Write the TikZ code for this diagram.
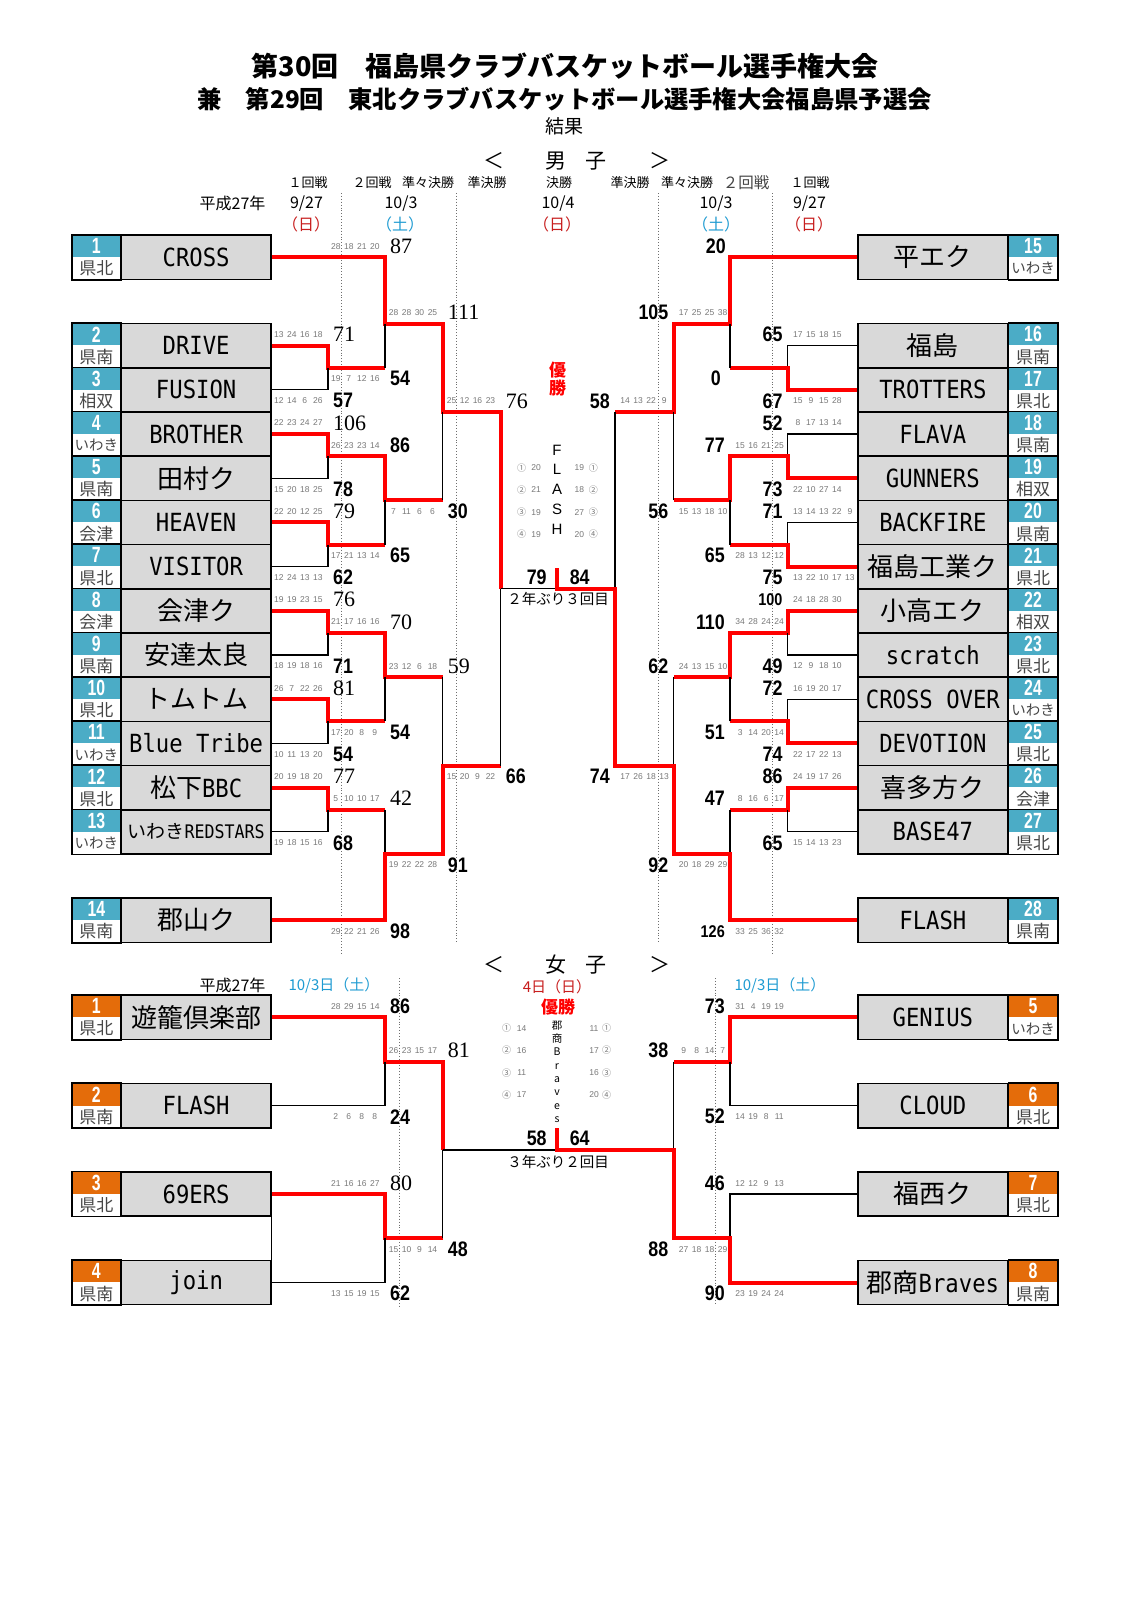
\documentclass[tikz,border=0pt]{standalone}
\usepackage{fontspec}
\setmainfont{Liberation Sans}
\newfontfamily\jp{Noto Sans CJK JP}
\newfontfamily\tm[FakeStretch=0.89]{DejaVu Sans Mono}
\newfontfamily\nf[FakeStretch=0.85]{Liberation Sans}
\newfontfamily\cf[FakeStretch=0.72]{Liberation Sans}
\newfontfamily\serfont{Liberation Serif}
\definecolor{teamBlue}{RGB}{75,172,198}
\definecolor{teamOrange}{RGB}{228,108,10}
\definecolor{nameGray}{RGB}{217,217,217}
\definecolor{winRed}{RGB}{255,0,0}
\definecolor{dayRed}{RGB}{200,30,30}
\definecolor{dayBlue}{RGB}{30,155,210}
\definecolor{qGray}{RGB}{120,120,120}
\definecolor{regGray}{RGB}{70,70,70}
\definecolor{guideGray}{RGB}{110,110,110}
% slot rows of the bracket
\pgfmathdeclarefunction{sy}{1}{\pgfmathparse{257.2+44.2*#1}}
\pgfmathdeclarefunction{wy}{1}{\pgfmathparse{1017.3+44.2*#1}}
\newcommand{\J}[1]{{\jp\fontsize{26}{26}\selectfont #1}}
\newcommand{\Iw}{{\fontsize{14.5}{14.5}\selectfont いわき}}
\newcommand{\Qs}[1]{\foreach \q in {#1}{\makebox[13pt][c]{\q}}}
% team box: name, y, number, region, team, colour
\newcommand{\TeamL}[6]{%
  \node[namebox,anchor=west] (#1) at (120.7,{#2}) {#5};
  \node[numtop,fill=#6,anchor=south west] (#1n) at (71.7,{#2}) {#3};
  \node[numbot,anchor=north west] (#1r) at (71.7,{#2}) {#4};
  \draw[boxline] (#1n.north west) rectangle (#1r.south east);}
\newcommand{\TeamR}[6]{%
  \node[namebox,anchor=east] (#1) at (1008.3,{#2}) {#5};
  \node[numtop,fill=#6,anchor=south west] (#1n) at (1008.3,{#2}) {#3};
  \node[numbot,anchor=north west] (#1r) at (1008.3,{#2}) {#4};
  \draw[boxline] (#1n.north west) rectangle (#1r.south east);}
% scores: [style] name, junction x, y, quarters, total
\newcommand{\SL}[6][tot]{%
  \node[qs,anchor=east] (#2q) at ({#3-3.5},{#4}) {\Qs{#5}};
  \node[#1,anchor=west] (#2) at ({#3+5},{#4}) {#6};}
\newcommand{\SR}[6][tot]{%
  \node[#1,anchor=east] (#2) at ({#3-5},{#4}) {#6};
  \node[qs,anchor=west] (#2q) at ({#3+3.5},{#4}) {\Qs{#5}};}

\begin{document}
\begin{tikzpicture}[x=1pt,y=-1pt,
  namebox/.style={draw=black,line width=1.6pt,fill=nameGray,minimum width=149.3pt,minimum height=44.2pt,inner sep=0pt,font=\tm\fontsize{25}{25}\selectfont},
  numtop/.style={minimum width=49pt,minimum height=22.1pt,inner sep=0pt,text=white,font=\cf\bfseries\fontsize{22}{22}\selectfont},
  numbot/.style={fill=white,minimum width=49pt,minimum height=22.1pt,inner sep=0pt,text=regGray,font=\jp\fontsize{17}{17}\selectfont},
  boxline/.style={draw=black,line width=1.6pt},
  win/.style={draw=winRed,line width=4pt},
  lose/.style={draw=black,line width=1.3pt},
  guide/.style={draw=guideGray,line width=0.9pt,dotted},
  qs/.style={inner sep=0pt,text=qGray,font=\fontsize{8.5}{8.5}\selectfont},
  tot/.style={inner sep=0pt,font=\nf\bfseries\fontsize{21}{21}\selectfont},
  tots/.style={inner sep=0pt,font=\nf\bfseries\fontsize{17}{17}\selectfont},
  sr/.style={inner sep=0pt,font=\serfont\fontsize{22}{22}\selectfont},
  hdr/.style={font=\jp\fontsize{13}{13}\selectfont},
  dt/.style={font=\jp\fontsize{16}{16}\selectfont},
  cq/.style={inner sep=0pt,text=qGray,font=\jp\fontsize{9}{9}\selectfont}]
\fill[white] (0,0) rectangle (1131,1600);
\useasboundingbox (0,0) rectangle (1131,1600);

% titles
\node[font=\jp\bfseries\fontsize{27}{27}\selectfont] (t1) at (565,66) {第30回　福島県クラブバスケットボール選手権大会};
\node[font=\jp\bfseries\fontsize{24.3}{24.3}\selectfont] (t2) at (564.5,99) {兼　第29回　東北クラブバスケットボール選手権大会福島県予選会};
\node[font=\jp\fontsize{19}{19}\selectfont] (t3) at (564.5,126.6) {結果};

% men header
\node[font=\jp\fontsize{21}{21}\selectfont] (mh1) at (493.5,161) {＜};
\node[font=\jp\fontsize{21}{21}\selectfont] (mh2) at (555.5,161) {男};
\node[font=\jp\fontsize{21}{21}\selectfont] (mh3) at (596,161) {子};
\node[font=\jp\fontsize{21}{21}\selectfont] (mh4) at (659.5,161) {＞};
\node[hdr] (rn1) at (308,182.7) {１回戦};
\node[hdr] (rn2) at (372,182.7) {２回戦};
\node[hdr] (rn3) at (428,182.7) {準々決勝};
\node[hdr] (rn4) at (487,182.7) {準決勝};
\node[hdr] (rn5) at (559,182.7) {決勝};
\node[hdr] (rn6) at (630,182.7) {準決勝};
\node[hdr] (rn7) at (687,182.7) {準々決勝};
\node[hdr,font=\jp\fontsize{15.5}{15.5}\selectfont,text=regGray] (rn8) at (746,182.7) {２回戦};
\node[hdr] (rn9) at (810,182.7) {１回戦};
\node[dt] (md0) at (232.5,203.3) {平成27年};
\node[dt] (md1) at (306.5,203.3) {9/27};
\node[dt] (md2) at (401,203.3) {10/3};
\node[dt] (md3) at (558,203.3) {10/4};
\node[dt] (md4) at (716,203.3) {10/3};
\node[dt] (md5) at (809.5,203.3) {9/27};
\node[dt,text=dayRed] (mw1) at (306,224) {（日）};
\node[dt,text=dayBlue] (mw2) at (400,224) {（土）};
\node[dt,text=dayRed] (mw3) at (557,224) {（日）};
\node[dt,text=dayBlue] (mw4) at (716,224) {（土）};
\node[dt,text=dayRed] (mw5) at (809,224) {（日）};

% round guides
\draw[guide] (341.7,193) -- (341.7,953);
\draw[guide] (456.7,193) -- (456.7,943);
\draw[guide] (658,193) -- (658,943);
\draw[guide] (772.7,193) -- (772.7,953);
\draw[guide] (399.3,978) -- (399.3,1306);
\draw[guide] (715,978) -- (715,1304);

% men teams
\foreach \s/\n/\rg/\nm in {0/1/県北/CROSS,2/2/県南/DRIVE,3/3/相双/FUSION,4/4/\Iw/BROTHER,
    5/5/県南/{\J{田村ク}},6/6/会津/HEAVEN,7/7/県北/VISITOR,8/8/会津/{\J{会津ク}},
    9/9/県南/{\J{安達太良}},10/10/県北/{\J{トムトム}},11/11/\Iw/Blue Tribe,12/12/県北/{\J{松下}BBC},
    13/13/\Iw/{{\jp\fontsize{19}{19}\selectfont いわき}{\fontsize{18.7}{19}\selectfont REDSTARS}},15/14/県南/{\J{郡山ク}}}
  {\TeamL{L\n}{sy(\s)}{\n}{\rg}{\nm}{teamBlue}}
\foreach \s/\n/\rg/\nm in {0/15/\Iw/{\J{平エク}},2/16/県南/{\J{福島}},3/17/県北/TROTTERS,4/18/県南/FLAVA,
    5/19/相双/GUNNERS,6/20/県南/BACKFIRE,7/21/県北/{\J{福島工業ク}},8/22/相双/{\J{小高エク}},
    9/23/県北/scratch,10/24/\Iw/CROSS OVER,11/25/県北/DEVOTION,12/26/会津/{\J{喜多方ク}},
    13/27/県北/BASE47,15/28/県南/FLASH}
  {\TeamR{R\n}{sy(\s)}{\n}{\rg}{\nm}{teamBlue}}

% junctions
\foreach \k [count=\i] in {2.5,4.5,6.5,8.5,10.5,12.5}
  {\coordinate (la\i) at (328,{sy(\k)}); \coordinate (ra\i) at (787.7,{sy(\k)});}
\foreach \k [count=\i] in {1.5,5.5,9.5,13.5}
  {\coordinate (lb\i) at (385,{sy(\k)}); \coordinate (rb\i) at (730,{sy(\k)});}
\foreach \k [count=\i] in {3.5,11.5}
  {\coordinate (lc\i) at (442.7,{sy(\k)}); \coordinate (rc\i) at (673.5,{sy(\k)});}
\coordinate (ld) at (500.7,{sy(7.5)});
\coordinate (rd) at (615,{sy(7.5)});
\coordinate (mc) at (557,{sy(7.5)});
\coordinate (mt) at (557,568);

% men left routes
\draw[win] (L1.east) -| (lb1) -| (lc1) -| (ld);
\draw[lose] (ld) -- (mc);
\draw[win] (L2.east) -| (la1) -- (lb1 |- la1);
\draw[lose] (lb1 |- la1) -- (lb1);
\draw[lose] (L3.east) -| (la1);
\draw[win] (L4.east) -| (la2) -| (lb2) -- (lc1 |- lb2);
\draw[lose] (lc1 |- lb2) -- (lc1);
\draw[lose] (L5.east) -| (la2);
\draw[win] (L6.east) -| (la3) -- (lb2 |- la3);
\draw[lose] (lb2 |- la3) -- (lb2);
\draw[lose] (L7.east) -| (la3);
\draw[win] (L8.east) -| (la4) -| (lb3) -- (lc2 |- lb3);
\draw[lose] (lc2 |- lb3) -- (lc2);
\draw[lose] (L9.east) -| (la4);
\draw[win] (L10.east) -| (la5) -- (lb3 |- la5);
\draw[lose] (lb3 |- la5) -- (lb3);
\draw[lose] (L11.east) -| (la5);
\draw[win] (L12.east) -| (la6) -- (lb4 |- la6);
\draw[lose] (lb4 |- la6) -- (lb4);
\draw[lose] (L13.east) -| (la6);
\draw[win] (L14.east) -| (lb4) -| (lc2) -- (ld |- lc2);
\draw[lose] (ld |- lc2) -- (ld);

% men right routes
\draw[win] (R15.west) -| (rb1) -| (rc1) -- (rd |- rc1);
\draw[lose] (rd |- rc1) -- (rd);
\draw[lose] (R16.west) -| (ra1);
\draw[win] (R17.west) -| (ra1) -- (rb1 |- ra1);
\draw[lose] (rb1 |- ra1) -- (rb1);
\draw[lose] (R18.west) -| (ra2);
\draw[win] (R19.west) -| (ra2) -| (rb2) -- (rc1 |- rb2);
\draw[lose] (rc1 |- rb2) -- (rc1);
\draw[lose] (R20.west) -| (ra3);
\draw[win] (R21.west) -| (ra3) -- (rb2 |- ra3);
\draw[lose] (rb2 |- ra3) -- (rb2);
\draw[win] (R22.west) -| (ra4) -| (rb3) -- (rc2 |- rb3);
\draw[lose] (rc2 |- rb3) -- (rc2);
\draw[lose] (R23.west) -| (ra4);
\draw[lose] (R24.west) -| (ra5);
\draw[win] (R25.west) -| (ra5) -- (rb3 |- ra5);
\draw[lose] (rb3 |- ra5) -- (rb3);
\draw[win] (R26.west) -| (ra6) -- (rb4 |- ra6);
\draw[lose] (rb4 |- ra6) -- (rb4);
\draw[lose] (R27.west) -| (ra6);
\draw[win] (R28.west) -| (rb4) -| (rc2) -| (rd) -- (mc) -- (mt);

% men scores, left
\SL[sr]{sL2a}{328}{sy(2)-11}{13,24,16,18}{71}
\SL{sL3a}{328}{sy(3)+11}{12,14,6,26}{57}
\SL[sr]{sL4a}{328}{sy(4)-11}{22,23,24,27}{106}
\SL{sL5a}{328}{sy(5)+11}{15,20,18,25}{78}
\SL[sr]{sL6a}{328}{sy(6)-11}{22,20,12,25}{79}
\SL{sL7a}{328}{sy(7)+11}{12,24,13,13}{62}
\SL[sr]{sL8a}{328}{sy(8)-11}{19,19,23,15}{76}
\SL{sL9a}{328}{sy(9)+11}{18,19,18,16}{71}
\SL[sr]{sL10a}{328}{sy(10)-11}{26,7,22,26}{81}
\SL{sL11a}{328}{sy(11)+11}{10,11,13,20}{54}
\SL[sr]{sL12a}{328}{sy(12)-11}{20,19,18,20}{77}
\SL{sL13a}{328}{sy(13)+11}{19,18,15,16}{68}
\SL[sr]{sL1b}{385}{sy(0)-11}{28,18,21,20}{87}
\SL{sL2b}{385}{sy(2.5)+11}{19,7,12,16}{54}
\SL{sL4b}{385}{sy(4.5)-11}{26,23,23,14}{86}
\SL{sL6b}{385}{sy(6.5)+11}{17,21,13,14}{65}
\SL[sr]{sL8b}{385}{sy(8.5)-11}{21,17,16,16}{70}
\SL{sL10b}{385}{sy(10.5)+11}{17,20,8,9}{54}
\SL[sr]{sL12b}{385}{sy(12.5)-11}{5,10,10,17}{42}
\SL{sL14b}{385}{sy(15)+11}{29,22,21,26}{98}
\SL[sr]{sL1c}{442.7}{sy(1.5)-11}{28,28,30,25}{111}
\SL{sL4c}{442.7}{sy(5.5)+11}{7,11,6,6}{30}
\SL[sr]{sL8c}{442.7}{sy(9.5)-11}{23,12,6,18}{59}
\SL{sL14c}{442.7}{sy(13.5)+11}{19,22,22,28}{91}
\SL[sr]{sL1d}{500.7}{sy(3.5)-11}{25,12,16,23}{76}
\SL{sL14d}{500.7}{sy(11.5)+11}{15,20,9,22}{66}

% men scores, right
\SR{sR16a}{787.7}{sy(2)-11}{17,15,18,15}{65}
\SR{sR17a}{787.7}{sy(3)+11}{15,9,15,28}{67}
\SR{sR18a}{787.7}{sy(4)-11}{8,17,13,14}{52}
\SR{sR19a}{787.7}{sy(5)+11}{22,10,27,14}{73}
\SR{sR20a}{787.7}{sy(6)-11}{13,14,13,22,9}{71}
\SR{sR21a}{787.7}{sy(7)+11}{13,22,10,17,13}{75}
\SR[tots]{sR22a}{787.7}{sy(8)-11}{24,18,28,30}{100}
\SR{sR23a}{787.7}{sy(9)+11}{12,9,18,10}{49}
\SR{sR24a}{787.7}{sy(10)-11}{16,19,20,17}{72}
\SR{sR25a}{787.7}{sy(11)+11}{22,17,22,13}{74}
\SR{sR26a}{787.7}{sy(12)-11}{24,19,17,26}{86}
\SR{sR27a}{787.7}{sy(13)+11}{15,14,13,23}{65}
\node[tot,anchor=east] (sR15b) at (726,{sy(0)-11}) {20};
\node[tot,anchor=east] (sR17b) at (721,{sy(2.5)+11}) {0};
\SR{sR19b}{730}{sy(4.5)-11}{15,16,21,25}{77}
\SR{sR21b}{730}{sy(6.5)+11}{28,13,12,12}{65}
\SR{sR22b}{730}{sy(8.5)-11}{34,28,24,24}{110}
\SR{sR25b}{730}{sy(10.5)+11}{3,14,20,14}{51}
\SR{sR26b}{730}{sy(12.5)-11}{8,16,6,17}{47}
\SR[tots]{sR28b}{730}{sy(15)+11}{33,25,36,32}{126}
\SR{sR15c}{673.5}{sy(1.5)-11}{17,25,25,38}{105}
\SR{sR19c}{673.5}{sy(5.5)+11}{15,13,18,10}{56}
\SR{sR22c}{673.5}{sy(9.5)-11}{24,13,15,10}{62}
\SR{sR28c}{673.5}{sy(13.5)+11}{20,18,29,29}{92}
\SR{sR15d}{615}{sy(3.5)-11}{14,13,22,9}{58}
\SR{sR28d}{615}{sy(11.5)+11}{17,26,18,13}{74}

% men final
\node[font=\jp\bfseries\fontsize{17}{18}\selectfont,text=winRed,align=center] (mwin) at (557.5,379) {優\\勝};
\node[font=\fontsize{15}{19.7}\selectfont,align=center] (mchamp) at (557,489.5) {F\\L\\A\\S\\H};
\foreach \o/\a/\b [count=\c] in {①/20/19,②/21/18,③/19/27,④/19/20} {
  \node[cq] (mqo\c) at (521.7,{445.5+22.2*\c}) {\o};
  \node[qs] (mqa\c) at (536,{445.5+22.2*\c}) {\a};
  \node[qs] (mqb\c) at (579.3,{445.5+22.2*\c}) {\b};
  \node[cq] (mqp\c) at (593.3,{445.5+22.2*\c}) {\o};}
\node[tot] (mfl) at (536.7,577.3) {79};
\node[tot] (mfr) at (579.7,577) {84};
\node[font=\jp\fontsize{14.5}{14.5}\selectfont] (mnote) at (558,599) {２年ぶり３回目};

% women header
\node[font=\jp\fontsize{21}{21}\selectfont] (wh1) at (493.5,965) {＜};
\node[font=\jp\fontsize{21}{21}\selectfont] (wh2) at (555.5,965) {女};
\node[font=\jp\fontsize{21}{21}\selectfont] (wh3) at (596,965) {子};
\node[font=\jp\fontsize{21}{21}\selectfont] (wh4) at (659.5,965) {＞};
\node[dt] (wd0) at (232.5,985) {平成27年};
\node[dt,text=dayBlue,font=\jp\fontsize{15}{15}\selectfont] (wd1) at (334,985) {10/3日（土）};
\node[dt,text=dayBlue,font=\jp\fontsize{15}{15}\selectfont] (wd2) at (780,985) {10/3日（土）};
\node[dt,text=dayRed,font=\jp\fontsize{15}{15}\selectfont] (wday) at (557,986.7) {4日（日）};
\node[font=\jp\bfseries\fontsize{17}{17}\selectfont,text=winRed] (wwin) at (558,1006.7) {優勝};

% women teams
\foreach \s/\n/\rg/\nm in {0/1/県北/{\J{遊籠倶楽部}},2/2/県南/FLASH,4/3/県北/69ERS,6/4/県南/join}
  {\TeamL{W\n}{wy(\s)}{\n}{\rg}{\nm}{teamOrange}}
\foreach \s/\n/\rg/\nm in {0/5/\Iw/GENIUS,2/6/県北/CLOUD,4/7/県北/{\J{福西ク}},6/8/県南/{\J{郡商}Braves}}
  {\TeamR{W\n}{wy(\s)}{\n}{\rg}{\nm}{teamOrange}}
\coordinate (wla1) at (385,{wy(1)});
\coordinate (wla2) at (385,{wy(5)});
\coordinate (wlb) at (442.7,{wy(3)});
\coordinate (wra1) at (730,{wy(1)});
\coordinate (wra2) at (730,{wy(5)});
\coordinate (wrb) at (673.5,{wy(3)});
\coordinate (wmc) at (557,{wy(3)});
\coordinate (wmt) at (557,1128);

% women routes
\draw[win] (W1.east) -| (wla1) -| (wlb);
\draw[lose] (wlb) -- (wmc);
\draw[lose] (W2.east) -| (wla1);
\draw[win] (W3.east) -| (wla2) -- (wlb |- wla2);
\draw[lose] (wlb |- wla2) -- (wlb);
\draw[lose] (W4.east) -| (wla2);
\draw[lose] (W3.south east) -- (W4.north east);
\draw[win] (W5.west) -| (wra1) -- (wrb |- wra1);
\draw[lose] (wrb |- wra1) -- (wrb);
\draw[lose] (W6.west) -| (wra1);
\draw[lose] (W7.west) -| (wra2);
\draw[win] (W8.west) -| (wra2) -| (wrb) -- (wmc) -- (wmt);

% women scores
\SL{sW1a}{385}{wy(0)-11}{28,29,15,14}{86}
\SL{sW2a}{385}{wy(2)+11}{2,6,8,8}{24}
\SL[sr]{sW1b}{442.7}{wy(1)-11}{26,23,15,17}{81}
\SL[sr]{sW3a}{385}{wy(4)-11}{21,16,16,27}{80}
\SL{sW4a}{385}{wy(6)+11}{13,15,19,15}{62}
\SL{sW3b}{442.7}{wy(5)+11}{15,10,9,14}{48}
\SR{sW5a}{730}{wy(0)-11}{31,4,19,19}{73}
\SR{sW6a}{730}{wy(2)+11}{14,19,8,11}{52}
\SR{sW5b}{673.5}{wy(1)-11}{9,8,14,7}{38}
\SR{sW7a}{730}{wy(4)-11}{12,12,9,13}{46}
\SR{sW8a}{730}{wy(6)+11}{23,19,24,24}{90}
\SR{sW8b}{673.5}{wy(5)+11}{27,18,18,29}{88}

% women final
\node[font=\jp\fontsize{10.5}{13.3}\selectfont,align=center] (wchamp) at (557,1071.7) {郡\\商\\B\\r\\a\\v\\e\\s};
\foreach \o/\a/\b [count=\c] in {①/14/11,②/16/17,③/11/16,④/17/20} {
  \node[cq] (wqo\c) at (506.7,{1006.1+22.2*\c}) {\o};
  \node[qs] (wqa\c) at (521.7,{1006.1+22.2*\c}) {\a};
  \node[qs] (wqb\c) at (594,{1006.1+22.2*\c}) {\b};
  \node[cq] (wqp\c) at (606.7,{1006.1+22.2*\c}) {\o};}
\node[tot] (wfl) at (536.7,1138.3) {58};
\node[tot] (wfr) at (579.7,1138) {64};
\node[font=\jp\fontsize{14.5}{14.5}\selectfont] (wnote) at (558,1161.7) {３年ぶり２回目};
\end{tikzpicture}
\end{document}
